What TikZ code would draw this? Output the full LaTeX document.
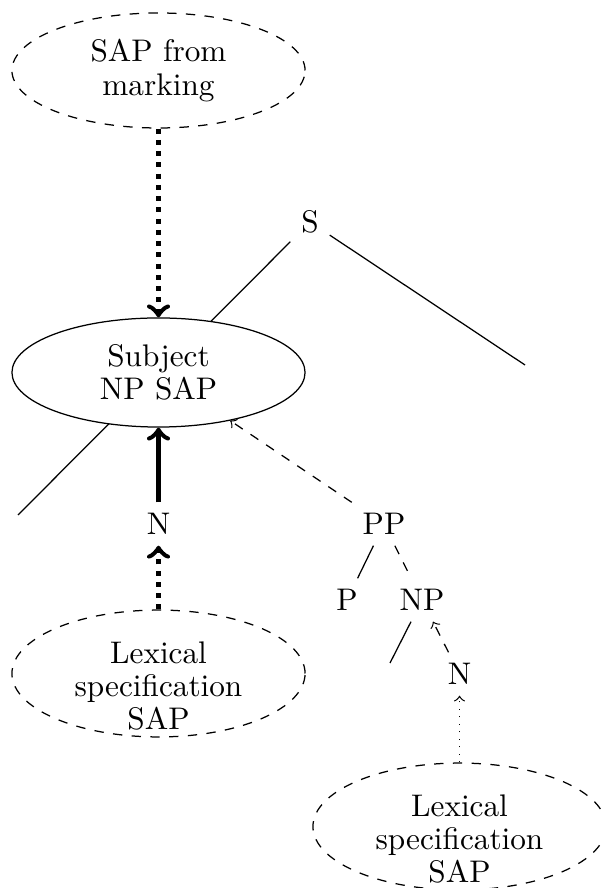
\documentclass[tikz,border=0pt]{standalone}
\usetikzlibrary{shapes.geometric}
\begin{document}
\begin{tikzpicture}[x=0.32pt,y=-0.32pt,
  sap/.style={ellipse, draw, dashed, inner sep=0pt, minimum width=93.8pt},
  txt/.style={align=center, font=\fontsize{10}{10.7}\selectfont},
  bigdot/.style={ultra thick, dotted, ->},
  ]
\useasboundingbox (0,0) rectangle (600,888);
% tree skeleton
\node (S) at (310,222) {S};
\coordinate (sl) at (18,515);
\coordinate (sr) at (525,365);
\draw (S) -- (sl);
\draw (S) -- (sr);
% ellipses
\node[sap, minimum height=36.8pt, txt] (E1) at (158.5,70.5) {SAP from\\marking};
\node[ellipse, draw, fill=white, inner sep=0pt, minimum width=93.8pt, minimum height=34.9pt, txt] (E2) at (158.5,372.5) {Subject\\NP SAP};
\node[sap, minimum height=40.6pt] (E3) at (158.5,673.5) {};
\node[txt] (E3t) at (158.5,686) {Lexical\\specification\\SAP};
\node[sap, minimum height=40.6pt] (E4) at (459.5,826.5) {};
\node[txt] (E4t) at (459.5,839) {Lexical\\specification\\SAP};
% tree nodes
\node (N1) at (158.5,524) {N};
\node (PP) at (384,524) {PP};
\node (P) at (347,600) {P};
\node (NP) at (422,600) {NP};
\node (N2) at (459.5,674) {N};
\coordinate (nl) at (390,663);
% connectors
\draw[bigdot] (E1) -- (E2);
\draw[ultra thick, ->] (N1) -- (E2);
\draw[bigdot] (E3) -- (N1);
\draw[dashed, ->] (PP) -- (E2);
\draw (PP) -- (P);
\draw[dashed] (PP) -- (NP);
\draw (NP) -- (nl);
\draw[dashed, ->] (N2) -- (NP);
\draw[dotted, ->] (E4) -- (N2);
\end{tikzpicture}
\end{document}
